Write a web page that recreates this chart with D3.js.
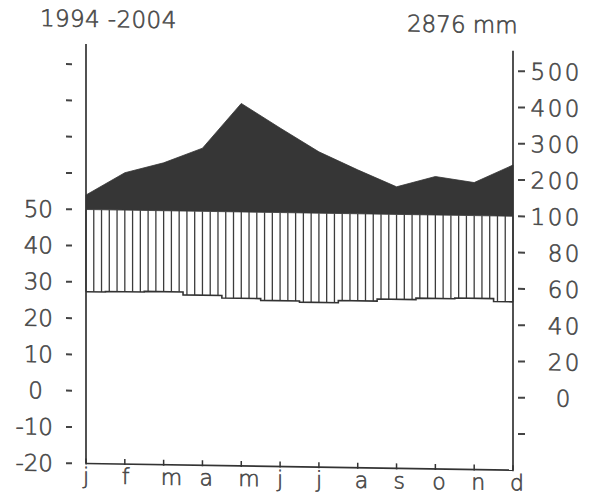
<!DOCTYPE html>
<html>
<head>
<meta charset="utf-8">
<script src="https://cdn.jsdelivr.net/npm/d3@7"></script>
<style>
  html, body { margin: 0; padding: 0; background: #ffffff; }
  svg { display: block; }
  text { font-family: "DejaVu Sans", "Liberation Sans", sans-serif; font-weight: 200; fill: #474747; stroke: #474747; stroke-width: 0.6px; }
</style>
</head>
<body>
<script>
// ---------- data ----------
const months = ["j", "f", "m", "a", "m", "j", "j", "a", "s", "o", "n", "d"];
const temperature = [27.35, 27.5, 27.7, 26.9, 26.2, 25.7, 25.4, 26.0, 26.6, 27.0, 27.2, 26.4]; // °C
const precipitation = [140, 203, 232, 274, 399, 333, 269, 221, 176, 206, 191, 241];        // mm
const tempTicks = [-20, -10, 0, 10, 20, 30, 40, 50, 60, 70, 80, 90];
const tempTickLabels = ["-20", "-10", "0", "10", "20", "30", "40", "50", "", "", "", ""];
const precipTicks = [-20, 0, 20, 40, 60, 80, 100, 200, 300, 400, 500];
const precipTickLabels = ["", "0", "20", "40", "60", "80", "100", "200", "300", "400", "500"];
const periodLabel = "1994 -2004";
const totalLabel = "2876 mm";

// ---------- layout ----------
const W = 594, H = 496;
const plotLeft = 86, plotRight = 513;
const plotBottom = 463.5, plotTop = 44;
const skewK = 0.0157; // slight vertical skew of the scanned original
const skewDeg = Math.atan(skewK) * 180 / Math.PI;
const ink = "#333333";

const x = d3.scaleLinear().domain([0, 11]).range([plotLeft, plotRight]);
const yT = d3.scaleLinear().domain([-20, 50]).range([plotBottom, 209.5]);
const yP = d3.scaleLinear().domain([-40, 100, 500]).range([yT(-20), yT(50), yT(90)]);
const pAt = d3.scaleLinear().domain(d3.range(12)).range(precipitation);

const svg = d3.select("body").append("svg").attr("width", W).attr("height", H);
svg.append("rect").attr("width", W).attr("height", H).attr("fill", "#ffffff");
const g = svg.append("g").attr("transform", `translate(0,${-skewK * plotLeft}) skewY(${skewDeg})`);

// precipitation above 100 mm (dark area)
const area = d3.area()
  .x((d, i) => x(i))
  .y0(yP(100))
  .y1(d => yP(Math.max(100, d)));
g.append("path").datum(precipitation).attr("d", area).attr("fill", "#363636").attr("stroke", "#363636").attr("stroke-width", 0.8);

// humid period: vertical hatching between temperature and precipitation (<=100 mm)
const hatch = d3.range(0, 56).map(k => k / 5);
g.append("g").selectAll("line").data(hatch).join("line")
  .attr("x1", t => x(t)).attr("x2", t => x(t))
  .attr("y1", t => yP(Math.min(100, pAt(t))))
  .attr("y2", t => yT(temperature[Math.round(t)]))
  .attr("stroke", "#3c3c3c").attr("stroke-width", 1.3);

// temperature curve (monthly steps)
const tline = d3.line().x((d, i) => x(i)).y(d => yT(d)).curve(d3.curveStep);
g.append("path").datum(temperature).attr("d", tline).attr("fill", "none").attr("stroke", ink).attr("stroke-width", 1.6);

// axes frame
g.append("line").attr("x1", plotLeft).attr("x2", plotLeft).attr("y1", plotTop).attr("y2", plotBottom).attr("stroke", ink).attr("stroke-width", 1.7);
g.append("line").attr("x1", plotRight).attr("x2", plotRight).attr("y1", plotTop).attr("y2", plotBottom).attr("stroke", ink).attr("stroke-width", 1.7);
g.append("line").attr("x1", plotLeft).attr("x2", plotRight).attr("y1", plotBottom).attr("y2", plotBottom).attr("stroke", ink).attr("stroke-width", 1.7);

// month ticks and labels
g.append("g").selectAll("line").data(months).join("line")
  .attr("x1", (d, i) => x(i)).attr("x2", (d, i) => x(i))
  .attr("y1", plotBottom - 5).attr("y2", plotBottom + 1)
  .attr("stroke", ink).attr("stroke-width", 1.5);
g.append("g").selectAll("text").data(months).join("text")
  .attr("x", (d, i) => x(i) - 3).attr("y", plotBottom + 20)
  .attr("font-size", 22).text(d => d);

// left temperature axis
g.append("g").selectAll("line").data(tempTicks).join("line")
  .attr("x1", 66).attr("x2", 72)
  .attr("y1", d => yT(d)).attr("y2", d => yT(d))
  .attr("stroke", "#444").attr("stroke-width", 2);
g.append("g").selectAll("text").data(tempTicks).join("text")
  .attr("x", (d, i) => tempTickLabels[i] === "0" ? 43 : 53)
  .attr("y", d => yT(d)).attr("dy", "0.36em")
  .attr("text-anchor", "end").attr("font-size", 23)
  .text((d, i) => tempTickLabels[i]);

// right precipitation axis
g.append("g").selectAll("line").data(precipTicks).join("line")
  .attr("x1", 518).attr("x2", 525)
  .attr("y1", d => yP(d)).attr("y2", d => yP(d))
  .attr("stroke", "#444").attr("stroke-width", 2);
g.append("g").selectAll("text").data(precipTicks).join("text")
  .attr("x", (d, i) => precipTickLabels[i] === "0" ? 573 : 582)
  .attr("y", d => yP(d)).attr("dy", "0.36em")
  .attr("text-anchor", "end").attr("font-size", 23)
  .attr("letter-spacing", 2.5)
  .text((d, i) => precipTickLabels[i]);

// header texts
g.append("text").attr("x", 40).attr("y", 26.7).attr("font-size", 23).attr("letter-spacing", 0.4).text(periodLabel);
g.append("text").attr("x", 407).attr("y", 26.5).attr("font-size", 23).text(totalLabel);
</script>
</body>
</html>
